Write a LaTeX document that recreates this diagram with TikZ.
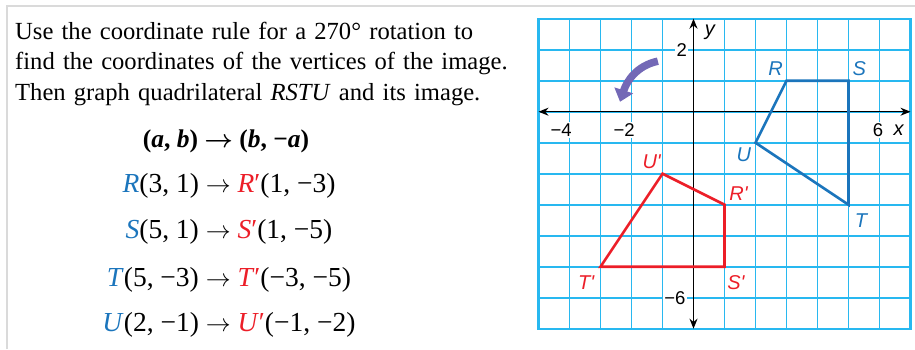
\documentclass[tikz,border=0pt]{standalone}
\usepackage{fontspec}
\setmainfont{Liberation Serif}
\newfontfamily\gridfont{Liberation Sans}
\usepackage{xcolor}
\usepackage{amsmath}
\usetikzlibrary{arrows.meta}

\definecolor{gridblue}{RGB}{40,184,240}
\definecolor{preblue}{RGB}{27,117,188}
\definecolor{imgred}{RGB}{236,30,40}
\definecolor{turnpurple}{RGB}{115,104,182}
\definecolor{framegray}{RGB}{218,218,218}

\begin{document}
\begin{tikzpicture}[
  x=1pt, y=1pt,
  task/.style={anchor=base west, inner sep=0pt, align=left, text width=520pt,
    font=\fontsize{24.6}{30.5}\selectfont},
  rule/.style={anchor=base, inner sep=0pt, font=\fontsize{27.5}{30}\selectfont},
  ticklabel/.style={fill=white, inner sep=1.5pt, font=\gridfont\fontsize{18.5}{18.5}\selectfont},
  vertex/.style={inner sep=0pt, font=\gridfont\itshape\fontsize{20}{20}\selectfont},
  gridline/.style={gridblue, line width=1.8pt},
  axis/.style={{Stealth[length=10pt,width=8pt]}-{Stealth[length=10pt,width=8pt]}, line width=1.3pt},
  quad/.style={line width=2.6pt, line join=miter},
  turn/.style={-{Triangle[length=12pt,width=19pt]}, line width=7.5pt, turnpurple},
]
  \useasboundingbox (0,0) rectangle (915,-349);

  % page frame
  \draw[framegray, line width=2pt] (6.7,-349) -- (6.7,-5.5) -- (915,-5.5);

  % task text
  \node[task] (task) at (15,-39.3) {Use the coordinate rule for a 270° rotation to\\
    find the coordinates of the vertices of the image.\\
    Then graph quadrilateral \textit{RSTU} and its image.};

  % rule and vertices
  \node[rule, font=\fontsize{25.5}{30}\selectfont] (ruleab) at (226,-147.3)
    {\textbf{(\textit{a}, \textit{b}) $\boldsymbol{\rightarrow}$ (\textit{b}, −\textit{a})}};
  \node[rule] (ruleR) at (229,-192.7) {{\color{preblue}\textit{R}}(3, 1) $\rightarrow$ {\color{imgred}\textit{R}′}(1, −3)};
  \node[rule] (ruleS) at (229,-238.3) {{\color{preblue}\textit{S}}(5, 1) $\rightarrow$ {\color{imgred}\textit{S}′}(1, −5)};
  \node[rule] (ruleT) at (229,-286.7) {{\color{preblue}\textit{T}}(5, −3) $\rightarrow$ {\color{imgred}\textit{T}′}(−3, −5)};
  \node[rule] (ruleU) at (229,-331) {{\color{preblue}\textit{U}}(2, −1) $\rightarrow$ {\color{imgred}\textit{U}′}(−1, −2)};

  \begin{scope}[shift={(693.5,-111.7)}, x=31pt, y=31pt]
    % grid
    \draw[gridline, step=1] (-5,-7) grid (7,3);
    \draw[gridline, line width=2.2pt] (-5,-7) rectangle (7,3);

    % tick labels
    \node[ticklabel] (t2) at (-0.38,1.99) {2};
    \node[ticklabel] (tm6) at (-0.6,-6.02) {−6};
    \node[ticklabel] (tm4) at (-4.27,-0.59) {−4};
    \node[ticklabel] (tm2) at (-2.24,-0.59) {−2};
    \node[ticklabel] (t6) at (5.95,-0.59) {6};
    \node[vertex] (xlab) at (6.62,-0.6) {x};
    \node[vertex] (ylab) at (0.53,2.57) {y};

    % axes
    \coordinate (xmin) at (-5,0);
    \coordinate (xmax) at (7,0);
    \coordinate (ymax) at (0,3);
    \coordinate (ymin) at (0,-7);
    \draw[axis] (xmin) -- (xmax);
    \draw[axis] (ymax) -- (ymin);

    % rotation arrow
    \coordinate (turnstart) at (-1.15,1.63);
    \coordinate (turnend) at (-2.37,0.32);
    \draw[turn] (turnstart) to[out=192, in=72] (turnend);

    % quadrilateral RSTU
    \coordinate (R) at (3,1);
    \coordinate (S) at (5,1);
    \coordinate (T) at (5,-3);
    \coordinate (U) at (2,-1);
    \draw[quad, preblue] (R) -- (S) -- (T) -- (U) -- cycle;

    % image R'S'T'U'
    \coordinate (R') at (1,-3);
    \coordinate (S') at (1,-5);
    \coordinate (T') at (-3,-5);
    \coordinate (U') at (-1,-2);
    \draw[quad, imgred] (R') -- (S') -- (T') -- (U') -- cycle;

    % vertex labels
    \node[vertex, preblue] (lR) at (2.65,1.4) {R};
    \node[vertex, preblue] (lS) at (5.35,1.4) {S};
    \node[vertex, preblue] (lT) at (5.4,-3.5) {T};
    \node[vertex, preblue] (lU) at (1.62,-1.4) {U};
    \node[vertex, imgred] (lR') at (1.45,-2.64) {R'};
    \node[vertex, imgred] (lS') at (1.37,-5.5) {S'};
    \node[vertex, imgred] (lT') at (-3.46,-5.5) {T'};
    \node[vertex, imgred] (lU') at (-1.35,-1.62) {U'};
  \end{scope}
\end{tikzpicture}
\end{document}
